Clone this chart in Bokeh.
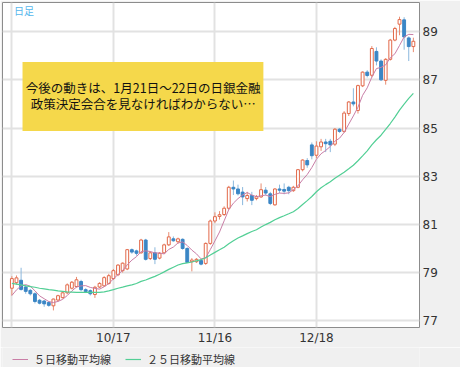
from bokeh.plotting import figure
from bokeh.layouts import column
from bokeh.models import (FixedTicker, ColumnDataSource, Label, BoxAnnotation,
                          Legend, LegendItem, Range1d)
from bokeh.embed import file_html
from bokeh.resources import INLINE
import numpy as np

# ---- data (USD/JPY daily) ----
opens = [78.35, 78.58, 78.68, 78.40, 78.26, 78.12, 77.85, 77.82, 77.76, 77.62,
         77.86, 77.96, 78.16, 78.35, 78.42, 78.63, 78.29, 78.25, 78.09, 78.40,
         78.45, 78.55, 78.75, 78.91, 79.08, 79.15, 79.95, 79.90, 79.82, 80.35,
         79.58, 79.82, 79.60, 79.82, 80.15, 80.40, 80.28, 80.38, 80.00, 79.45,
         79.45, 79.50, 79.38, 80.21, 81.14, 81.33, 81.41, 81.67, 82.54, 82.47,
         82.34, 82.07, 82.20, 82.07, 82.14, 82.42, 82.27, 81.81, 82.47, 82.45,
         82.54, 82.40, 82.54, 83.27, 83.65, 84.30, 83.87, 84.22, 84.42, 84.45,
         84.33, 84.95, 84.86, 85.60, 86.08, 85.73, 86.75, 87.32, 87.19, 88.18,
         87.78, 86.98, 87.85, 88.65, 89.31, 89.49, 88.74, 88.38]
highs = [78.85, 78.88, 79.20, 78.48, 78.32, 78.18, 77.90, 77.86, 77.82, 77.92,
         78.08, 78.20, 78.55, 78.65, 78.82, 78.70, 78.35, 78.30, 78.45, 78.60,
         78.85, 78.95, 79.15, 79.35, 79.42, 79.98, 80.00, 79.95, 80.40, 80.40,
         79.88, 80.05, 79.85, 80.20, 80.68, 80.50, 80.45, 80.42, 80.05, 79.60,
         79.60, 79.55, 80.25, 81.20, 81.50, 81.55, 81.75, 82.60, 82.82, 82.65,
         82.55, 82.35, 82.35, 82.22, 82.70, 82.55, 82.35, 82.50, 82.65, 82.70,
         82.60, 82.60, 83.30, 83.70, 83.75, 84.40, 84.45, 84.55, 84.55, 84.55,
         85.00, 85.00, 85.70, 86.12, 86.65, 86.80, 87.35, 87.40, 88.40, 88.35,
         87.85, 87.90, 88.70, 89.20, 89.62, 89.60, 88.80, 88.75]
lows = [78.05, 78.50, 78.25, 78.12, 78.05, 77.72, 77.68, 77.58, 77.58, 77.43,
        77.80, 77.92, 78.10, 78.30, 78.38, 78.22, 78.15, 78.05, 77.95, 78.35,
        78.40, 78.50, 78.70, 78.85, 79.00, 79.10, 79.78, 79.70, 79.78, 79.50,
        79.52, 79.35, 79.55, 79.78, 80.10, 80.28, 80.20, 79.95, 79.40, 79.05,
        79.40, 79.30, 79.32, 80.15, 81.05, 81.20, 81.35, 81.60, 82.22, 82.20,
        81.80, 81.95, 81.80, 82.00, 82.10, 82.20, 81.80, 81.78, 82.30, 82.25,
        82.25, 82.35, 82.50, 83.20, 83.35, 83.70, 83.75, 84.05, 84.00, 84.00,
        84.25, 84.80, 84.80, 85.50, 85.90, 85.60, 86.70, 87.10, 87.10, 87.60,
        86.95, 86.80, 87.80, 88.60, 88.85, 88.25, 87.78, 88.15]
closes = [78.75, 78.78, 78.30, 78.22, 78.12, 77.80, 77.73, 77.70, 77.64, 77.90,
          78.04, 78.16, 78.49, 78.60, 78.70, 78.29, 78.21, 78.12, 78.39, 78.55,
          78.79, 78.87, 79.08, 79.31, 79.39, 79.95, 79.85, 79.80, 80.35, 79.55,
          79.82, 79.55, 79.80, 80.15, 80.48, 80.32, 80.40, 80.00, 79.42, 79.52,
          79.55, 79.35, 80.21, 81.14, 81.32, 81.40, 81.67, 82.54, 82.47, 82.27,
          82.14, 82.20, 82.00, 82.15, 82.44, 82.30, 81.87, 82.47, 82.42, 82.38,
          82.40, 82.54, 83.27, 83.67, 83.47, 83.85, 84.25, 84.42, 84.35, 84.30,
          84.95, 84.86, 85.62, 86.08, 86.00, 86.76, 87.32, 87.18, 88.30, 87.78,
          87.00, 87.85, 88.65, 89.13, 89.50, 88.78, 88.38, 88.60]
# moving-average values at the chart's left edge (earlier data not shown)
ma5_head = [78.05, 78.28, 78.45, 78.50]
ma25_head = [78.55, 78.52, 78.49, 78.45, 78.42, 78.39, 78.35, 78.32, 78.29, 78.27,
             78.24, 78.22, 78.20, 78.19, 78.18, 78.18, 78.18, 78.18, 78.18, 78.18,
             78.20, 78.24, 78.29, 78.35]
x_ticks = [0, 22, 44, 66]
x_tick_labels = ["", "10/17", "11/16", "12/18"]
y_ticks = [77, 79, 81, 83, 85, 87, 89]
note_lines = ["今後の動きは、1月21日〜22日の日銀金融",
              "政策決定会合を見なければわからない…"]
legend_labels = ["５日移動平均線", "２５日移動平均線"]
chart_label = "日足"

# ---- derived ----
o = np.array(opens); h = np.array(highs); l = np.array(lows); c = np.array(closes)
idx = np.arange(len(c))
ma5 = list(ma5_head) + [float(c[i - 4:i + 1].mean()) for i in range(4, len(c))]
ma25 = list(ma25_head) + [float(c[i - 24:i + 1].mean()) for i in range(24, len(c))]
up = c >= o
dn = ~up

def src(mask):
    return ColumnDataSource(dict(x=idx[mask], top=np.maximum(o, c)[mask],
                                 bottom=np.minimum(o, c)[mask],
                                 high=h[mask], low=l[mask]))

src_up = src(up)
src_dn = src(dn)

UP = "#e2694a"
UP_WICK = "#e98c70"
DN = "#3b86c5"
DN_WICK = "#8bb8dd"
MA5 = "#c97ea6"
MA25 = "#52cf95"
PANEL = "#f0f0f0"

p = figure(frame_width=417, frame_height=325, x_range=Range1d(-2.03, 88.33),
           y_range=Range1d(76.72, 90.21), y_axis_location="right",
           output_backend="svg", toolbar_location=None,
           min_border_left=2, min_border_top=2, min_border_right=41,
           min_border_bottom=18,
           background_fill_color="white", border_fill_color=PANEL)
p.outline_line_color = "#8c8c8c"
p.outline_line_width = 1

p.xaxis.ticker = FixedTicker(ticks=x_ticks)
p.xgrid.ticker = FixedTicker(ticks=x_ticks)
p.xaxis.major_label_overrides = {t: s for t, s in zip(x_ticks, x_tick_labels)}
p.yaxis.ticker = FixedTicker(ticks=y_ticks)
p.ygrid.ticker = FixedTicker(ticks=y_ticks)
for ax in (p.xaxis, p.yaxis):
    ax.axis_line_color = None
    ax.major_tick_line_color = None
    ax.minor_tick_line_color = None
    ax.major_tick_out = 0
    ax.major_tick_in = 0
    ax.minor_tick_out = 0
    ax.minor_tick_in = 0
    ax.major_label_text_font = "DejaVu Sans"
    ax.major_label_text_font_size = "12px"
    ax.major_label_text_color = "#333333"
p.xaxis.major_label_standoff = 3
p.yaxis.major_label_standoff = 3
p.grid.grid_line_color = "#e2e2e2"
p.grid.grid_line_width = 2

# wicks then bodies
p.segment(x0="x", y0="high", x1="x", y1="low", source=src_up, line_color=UP_WICK, line_width=1)
p.segment(x0="x", y0="high", x1="x", y1="low", source=src_dn, line_color=DN_WICK, line_width=1)
p.vbar(x="x", width=0.62, top="top", bottom="bottom", source=src_up,
       fill_color="white", line_color=UP, line_width=1)
p.vbar(x="x", width=0.62, top="top", bottom="bottom", source=src_dn,
       fill_color=DN, line_color=DN, line_width=1)

r5 = p.line(idx, ma5, line_color=MA5, line_width=1)
r25 = p.line(idx, ma25, line_color=MA25, line_width=1.2)

box = BoxAnnotation(left=2.31, right=54.5, bottom=84.88, top=87.74,
                    fill_color="#f5d84b", fill_alpha=1.0, line_color=None)
p.add_layout(box)
for txt, yy in zip(note_lines, [86.70, 86.00]):
    p.add_layout(Label(x=28.45, y=yy, text=txt, text_align="center",
                       text_baseline="middle", text_font="Noto Sans CJK JP",
                       text_font_size="12.5px", text_color="#111111"))
p.add_layout(Label(x=0.45, y=89.88, text=chart_label, text_align="left",
                   text_baseline="middle", text_font="Noto Sans CJK JP",
                   text_font_size="10px", text_color="#56b6ec"))

# ---- legend strip below the chart (its lines sit outside the visible range) ----
q = figure(width=460, height=20, x_range=Range1d(0, 1), y_range=Range1d(0, 1),
           output_backend="svg", toolbar_location=None, min_border=0,
           background_fill_color=PANEL, border_fill_color=PANEL)
q.outline_line_color = None
q.axis.visible = False
q.grid.visible = False
l5 = q.line([-2, -1], [-2, -2], line_color=MA5, line_width=1)
l25 = q.line([-2, -1], [-2, -2], line_color=MA25, line_width=1.2)
legend = Legend(items=[LegendItem(label=legend_labels[0], renderers=[l5]),
                       LegendItem(label=legend_labels[1], renderers=[l25])],
                orientation="horizontal", location=(10, 0),
                border_line_color=None, background_fill_alpha=0,
                label_text_font="Noto Sans CJK JP", label_text_font_size="11px",
                label_text_color="#333333", glyph_width=16, glyph_height=12,
                label_height=12, label_standoff=6, spacing=14, padding=4, margin=0)
q.add_layout(legend)

layout = column(p, q, spacing=0)
open("out.html", "w").write(file_html(layout, INLINE))
